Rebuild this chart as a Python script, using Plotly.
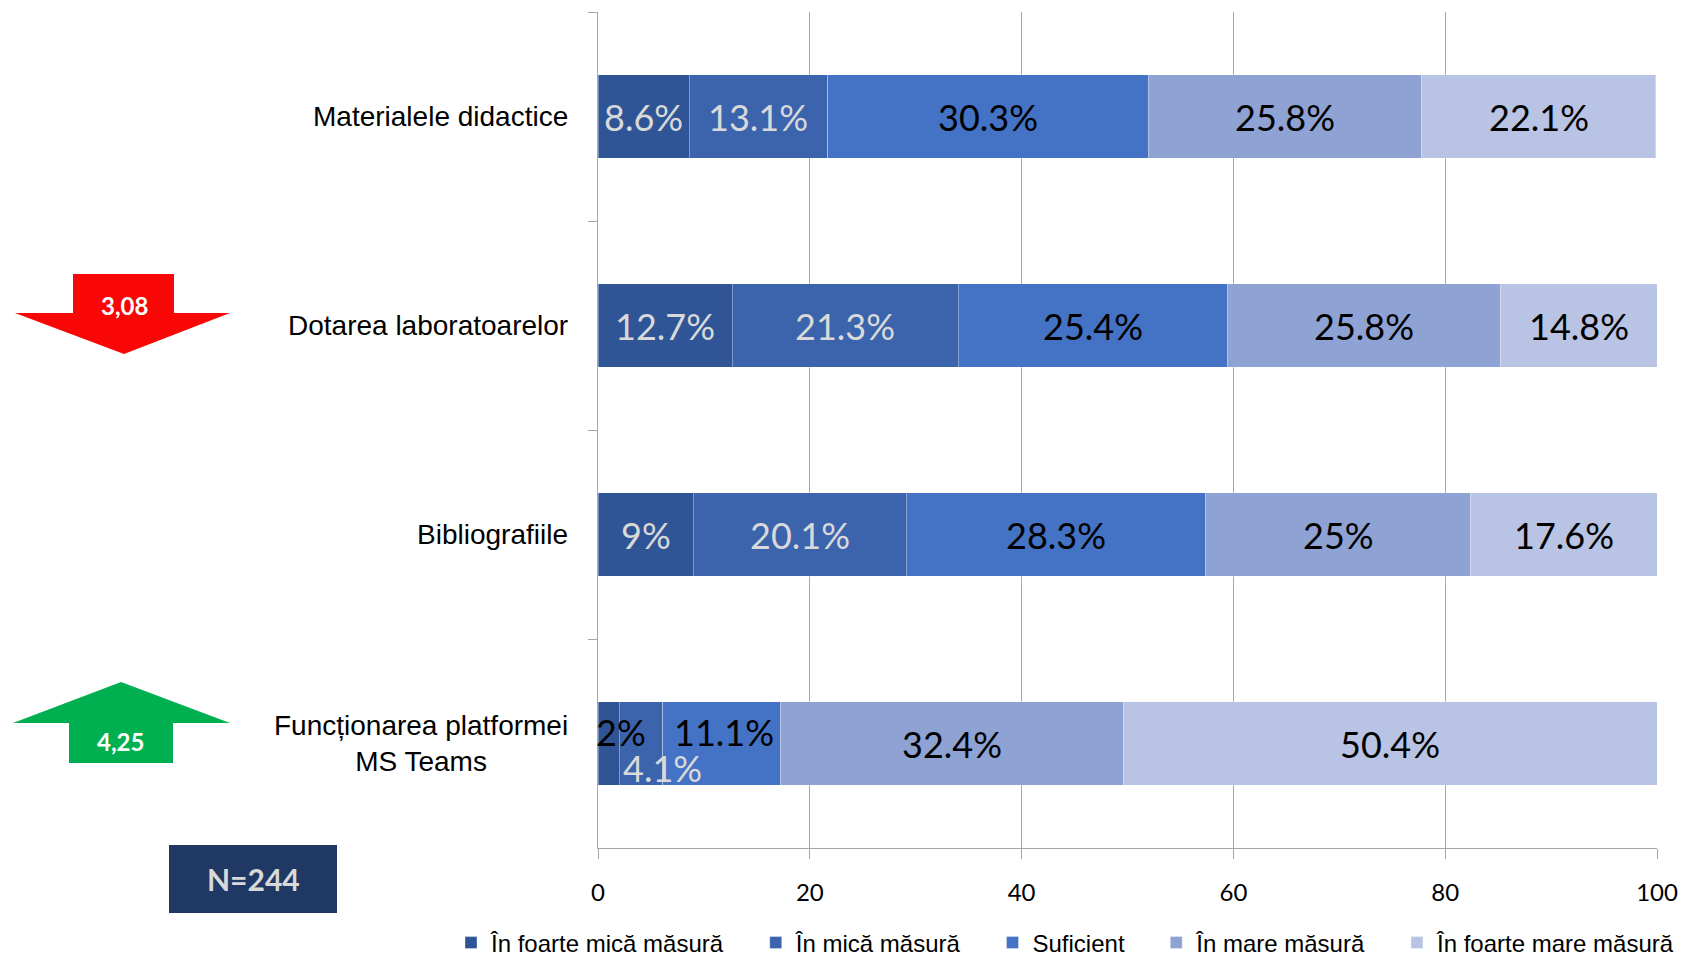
import plotly.graph_objects as go

# ---------------- data ----------------
categories = ["Materialele didactice", "Dotarea laboratoarelor", "Bibliografiile",
              "Funcționarea platformei<br>MS Teams"]
series_names = ["În foarte mică măsură", "În mică măsură", "Suficient",
                "În mare măsură", "În foarte mare măsură"]
foarte_mica = [8.6, 12.7, 9, 2]
mica = [13.1, 21.3, 20.1, 4.1]
suficient = [30.3, 25.4, 28.3, 11.1]
mare = [25.8, 25.8, 25, 32.4]
foarte_mare = [22.1, 14.8, 17.6, 50.4]
x_ticks = [0, 20, 40, 60, 80, 100]
mean_low = "3,08"
mean_high = "4,25"
n_label = "N=244"

series_values = [foarte_mica, mica, suficient, mare, foarte_mare]

# ---------------- styles ----------------
colors = ["#2F5597", "#3B64AD", "#4472C4", "#8FA2D4", "#B9C3E3"]
label_colors = ["#D9D9D9", "#D9D9D9", "#000000", "#000000", "#000000"]
# label style overrides (series index, category index) -> (xshift, yshift, color)
label_overrides = {(0, 3): (12, 12, "#000000"), (1, 3): (22, -24, None), (2, 3): (3, 12, None)}
legend_pad = "\u00a0" * 4

W, H = 1685, 957
L, R, T, B = 598, 28, 12, 109
PW, PH = W - L - R, H - T - B


def px(x):
    return (x - L) / PW


def py(y):
    return (H - B - y) / PH


fig = go.Figure()
for i, (name, vals, col) in enumerate(zip(series_names, series_values, colors)):
    pad = legend_pad if i < len(series_names) - 1 else ""
    fig.add_trace(go.Bar(
        y=categories, x=vals, name=name + pad, orientation="h",
        marker=dict(color=col, line=dict(color="rgba(255,255,255,0.35)", width=1)),
        hovertemplate=name + ": %{x}%<extra></extra>",
    ))

annotations = []
for ci, cat in enumerate(categories):
    cum = 0
    for si, vals in enumerate(series_values):
        v = vals[ci]
        xs, ys, colr = label_overrides.get((si, ci), (0, 0, None))
        annotations.append(dict(
            x=cum + v / 2, y=cat, xref="x", yref="y", text=f"{v:g}%",
            showarrow=False, xshift=xs, yshift=ys,
            font=dict(size=36, color=colr or label_colors[si], family="Lato, sans-serif"),
        ))
        cum += v
    # category label (centred lines, right edge left of the axis)
    annotations.append(dict(
        x=px(570), y=cat, xref="paper", yref="y", text=cat, showarrow=False,
        xanchor="right", yanchor="middle", align="center",
        font=dict(size=28, color="#000000", family="Liberation Sans, sans-serif"),
    ))

common = dict(xref="paper", yref="paper", showarrow=False, xanchor="center", yanchor="middle")
annotations.append(dict(x=px(124), y=py(305), text=f"<b>{mean_low}</b>",
                        font=dict(size=24, color="white", family="Lato, sans-serif"), **common))
annotations.append(dict(x=px(120), y=py(741), text=f"<b>{mean_high}</b>",
                        font=dict(size=24, color="white", family="Lato, sans-serif"), **common))
annotations.append(dict(x=px(253), y=py(879), text=f"<b>{n_label}</b>",
                        font=dict(size=30, color="#D9D9D9", family="Lato, sans-serif"), **common))


def path(points):
    return "M " + " L ".join(f"{px(a):.5f},{py(b):.5f}" for a, b in points) + " Z"


shapes = [
    dict(type="path", xref="paper", yref="paper", line=dict(width=0), fillcolor="#F90606",
         path=path([(73, 274), (174, 274), (174, 313), (230, 313), (124, 354), (15, 313), (73, 313)])),
    dict(type="path", xref="paper", yref="paper", line=dict(width=0), fillcolor="#00B050",
         path=path([(121, 682), (230, 723), (173, 723), (173, 763), (69, 763), (69, 723), (13, 723)])),
    dict(type="rect", xref="paper", yref="paper", line=dict(width=0), fillcolor="#203864",
         x0=px(169), x1=px(337), y0=py(845), y1=py(913)),
]

fig.update_layout(
    width=W, height=H, barmode="stack", bargap=0.6,
    margin=dict(l=L, r=R, t=T, b=B, autoexpand=False),
    paper_bgcolor="white", plot_bgcolor="white",
    font=dict(family="Liberation Sans, sans-serif", color="#000000"),
    xaxis=dict(range=[0, 100], tickvals=x_ticks, ticks="outside", ticklen=10, tickcolor="#A6A6A6",
               showgrid=True, gridcolor="#A6A6A6", gridwidth=1, showline=True, linecolor="#A6A6A6",
               tickfont=dict(size=24, family="Lato, sans-serif"), ticklabelstandoff=13, zeroline=False),
    yaxis=dict(autorange="reversed", ticks="outside", ticklen=9, tickcolor="#A6A6A6",
               tickson="boundaries", showline=True, linecolor="#A6A6A6", showgrid=False,
               showticklabels=False),
    legend=dict(orientation="h", xref="paper", yref="paper",
                x=px(451), xanchor="left", y=py(943), yanchor="middle",
                font=dict(size=24, color="#000000"), traceorder="normal", itemclick=False,
                tracegroupgap=0),
    annotations=annotations, shapes=shapes, showlegend=True,
)

fig.write_html("out.html", config={"displayModeBar": False},
               post_script="document.body.style.margin='0';document.body.style.overflow='hidden';")
